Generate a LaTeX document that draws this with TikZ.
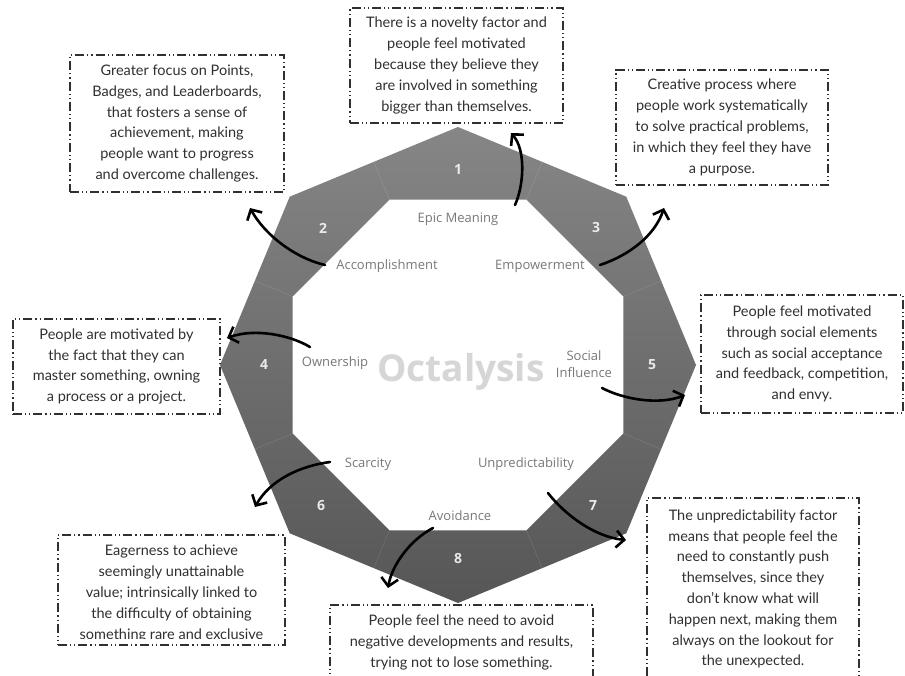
\documentclass[tikz,border=0pt]{standalone}
\usepackage{fontspec}
\setmainfont{Lato}
\newfontfamily\octfont{Open Sans}
\usetikzlibrary{arrows.meta,calc}
\definecolor{bandtop}{RGB}{134,134,134}
\definecolor{bandbot}{RGB}{86,86,86}
\definecolor{labgray}{RGB}{120,120,120}
\definecolor{octgray}{RGB}{214,214,214}
\definecolor{numwhite}{RGB}{234,234,234}
\definecolor{txtgray}{RGB}{48,48,48}

\begin{document}
\begin{tikzpicture}[x=1pt,y=-1pt,>={Straight Barb[length=8pt,width=17pt]},
  descbox/.style={draw=txtgray,line width=1.2pt,dash pattern=on 9pt off 3pt on 1.2pt off 3pt on 1.2pt off 3pt,inner sep=0pt},
  desctext/.style={text=txtgray,align=center,font=\fontsize{14.5}{20.8}\selectfont,inner sep=0pt},
  corelabel/.style={text=labgray,align=center,font=\octfont\fontsize{13}{17}\selectfont,inner sep=0pt},
  corenum/.style={text=numwhite,font=\octfont\bfseries\fontsize{14}{16}\selectfont,inner sep=0pt},
  arr/.style={->,line width=2.6pt,line cap=round,black}]
\useasboundingbox[fill=white] (0,0) rectangle (905,676);

% octagon band
\coordinate (c) at (458,365);
\shade[top color=bandtop,bottom color=bandbot,even odd rule]
  ($(c)+(0:238)$) \foreach \a in {45,90,...,315}{ -- ($(c)+(\a:238)$)} -- cycle
  ($(c)+(22.5:179)$) \foreach \a in {67.5,112.5,...,337.5}{ -- ($(c)+(\a:179)$)} -- cycle;
\foreach \a in {22.5,67.5,...,337.5}
  \draw[white,opacity=0.12,line width=0.6pt] ($(c)+(\a:179)$) -- ($(c)+(\a:220)$);

\node[text=octgray,font=\octfont\bfseries\fontsize{37}{40}\selectfont] (oct) at (461,372) {Octalysis};

\node[corenum] (n1) at (458,170) {1};
\node[corenum] (n2) at (323,228) {2};
\node[corenum] (n3) at (596,228) {3};
\node[corenum] (n4) at (264,365) {4};
\node[corenum] (n5) at (652,365) {5};
\node[corenum] (n6) at (321,506) {6};
\node[corenum] (n7) at (593,506) {7};
\node[corenum] (n8) at (458,559) {8};

\node[corelabel] (l1) at (458,219) {Epic Meaning};
\node[corelabel] (l2) at (387,266) {Accomplishment};
\node[corelabel] (l3) at (540,266) {Empowerment};
\node[corelabel] (l4) at (335,363) {Ownership};
\node[corelabel] (l5) at (584,364) {Social\\Influence};
\node[corelabel] (l6) at (368,464) {Scarcity};
\node[corelabel] (l7) at (526,464) {Unpredictability};
\node[corelabel] (l8) at (460,516) {Avoidance};

% description boxes
\node[descbox,minimum width=213,minimum height=115] (d1) at (456.5,65.5) {};
\node[desctext] (t1) at (d1) {There is a novelty factor and\\people feel motivated\\because they believe they\\are involved in something\\bigger than themselves.};
\node[descbox,minimum width=214,minimum height=137] (d2) at (177,123.5) {};
\node[desctext] (t2) at (d2) {Greater focus on Points,\\Badges, and Leaderboards,\\that fosters a sense of\\achievement, making\\people want to progress\\and overcome challenges.};
\node[descbox,minimum width=212,minimum height=115] (d3) at (722,127.5) {};
\node[desctext] (t3) at (d3) {Creative process where\\people work systematically\\to solve practical problems,\\in which they feel they have\\a purpose.};
\node[descbox,minimum width=207,minimum height=95] (d4) at (116.5,366.5) {};
\node[desctext] (t4) at (d4) {People are motivated by\\the fact that they can\\master something, owning\\a process or a project.};
\node[descbox,minimum width=202,minimum height=118] (d5) at (802,354) {};
\node[desctext] (t5) at (d5) {People feel motivated\\through social elements\\such as social acceptance\\and feedback, competition,\\and envy.};
\node[descbox,minimum width=227,minimum height=110] (d6) at (171.5,590) {};
\begin{scope}
\clip (58,536) rectangle (285,638);
\node[desctext] (t6) at (171.5,593.5) {Eagerness to achieve\\seemingly unattainable\\value; intrinsically linked to\\the difficulty of obtaining\\something rare and exclusive};
\end{scope}
\node[descbox,minimum width=212,minimum height=182] (d7) at (753,589) {};
\node[desctext] (t7) at (d7) {The unpredictability factor\\means that people feel the\\need to constantly push\\themselves, since they\\don't know what will\\happen next, making them\\always on the lookout for\\the unexpected.};
\node[descbox,minimum width=263,minimum height=75] (d8) at (461.5,642.5) {};
\node[desctext] (t8) at (d8) {People feel the need to avoid\\negative developments and results,\\trying not to lose something.};

% arrows
\coordinate (s1) at (515,205); \coordinate (e1) at (511,133);
\coordinate (s2) at (325,265); \coordinate (e2) at (250,208);
\coordinate (s3) at (600,265); \coordinate (e3) at (664,208);
\coordinate (s4) at (310,347); \coordinate (e4) at (227,338);
\coordinate (s5) at (602,388); \coordinate (e5) at (685,395);
\coordinate (s6) at (330,462); \coordinate (e6) at (255,507);
\coordinate (s7) at (548,493); \coordinate (e7) at (626,540);
\coordinate (s8) at (433,528); \coordinate (e8) at (388,588);
\draw[arr] (s1) .. controls (524,185) and (526,150) .. (e1);
\draw[arr] (s2) .. controls (295,258) and (265,235) .. (e2);
\draw[arr] (s3) .. controls (630,255) and (655,235) .. (e3);
\draw[arr] (s4) .. controls (290,335) and (255,328) .. (e4);
\draw[arr] (s5) .. controls (625,400) and (660,405) .. (e5);
\draw[arr] (s6) .. controls (300,466) and (270,480) .. (e6);
\draw[arr] (s7) .. controls (565,515) and (595,537) .. (e7);
\draw[arr] (s8) .. controls (410,540) and (392,565) .. (e8);
\end{tikzpicture}
\end{document}
